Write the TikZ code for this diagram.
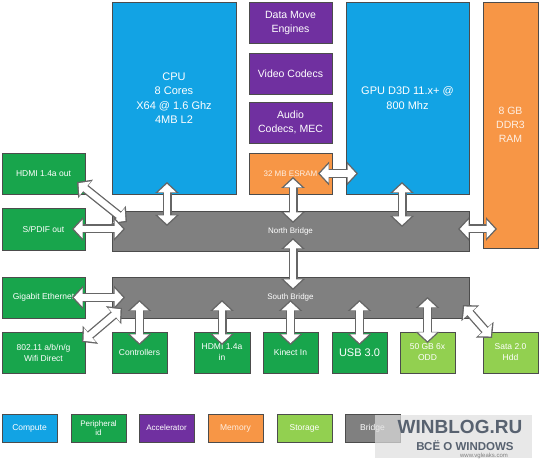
\documentclass[tikz,border=0pt]{standalone}
\usepackage{fontspec}
\setmainfont{Liberation Sans}
\usetikzlibrary{arrows.meta}

\definecolor{computec}{RGB}{18,163,228}
\definecolor{periphc}{RGB}{24,165,76}
\definecolor{accelc}{RGB}{112,48,160}
\definecolor{memc}{RGB}{247,150,70}
\definecolor{storc}{RGB}{146,208,80}
\definecolor{bridgec}{RGB}{128,128,128}
\definecolor{wmtext}{RGB}{88,98,112}

\tikzset{
    blk/.style={draw=black!70, line width=0.5pt, anchor=north west, inner sep=1pt,
        outer sep=0pt, align=center, text=white},
    sz/.style 2 args={minimum width=#1pt, minimum height=#2pt},
    big/.style={font=\fontsize{11}{14.5}\selectfont},
    mid/.style={font=\fontsize{10.5}{14}\selectfont},
    small/.style={font=\fontsize{8.5}{11}\selectfont},
    tiny/.style={font=\fontsize{8}{9.5}\selectfont},
    compute/.style={blk, fill=computec},
    periph/.style={blk, fill=periphc},
    accel/.style={blk, fill=accelc},
    memory/.style={blk, fill=memc, text=white!85!memc},
    storage/.style={blk, fill=storc},
    bridge/.style={blk, fill=bridgec},
    fat/.style={draw=black!60, line width=9pt,
        {Triangle[width=23pt 0 0,length=11pt 0 0]}-{Triangle[width=23pt 0 0,length=11pt 0 0]},
        postaction={draw=white, line width=6.4pt, shorten <=1.9pt, shorten >=1.9pt,
            {Triangle[width=18pt 0 0,length=8.6pt 0 0]}-{Triangle[width=18pt 0 0,length=8.6pt 0 0]}}},
}

\begin{document}
\begin{tikzpicture}[x=1pt, y=-1pt]
    \useasboundingbox[fill=white] (0,0) rectangle (541,470);

    % chip blocks
    \node[compute, big, sz={124}{192}] (cpu) at (112,2) {CPU\\8 Cores\\X64 @ 1.6 Ghz\\4MB L2};
    \node[accel, mid, sz={83}{41}] (dme) at (249,2) {Data Move\\Engines};
    \node[accel, mid, sz={83}{41}] (vid) at (249,53) {Video Codecs};
    \node[accel, mid, sz={83}{41}] (aud) at (249,102) {Audio\\Codecs, MEC};
    \node[memory, tiny, sz={83}{41}] (esram) at (249,153) {32 MB ESRAM};
    \node[compute, big, sz={123}{192}] (gpu) at (346,2) {GPU D3D 11.x+ @\\800 Mhz};
    \node[memory, mid, sz={55}{246}] (ram) at (483,2) {8 GB\\DDR3\\RAM};

    % bridges
    \node[bridge, tiny, sz={357}{40}] (nb) at (112,211) {North Bridge};
    \node[bridge, tiny, sz={357}{41}] (sb) at (112,277) {South Bridge};

    % peripherals
    \node[periph, small, sz={83}{41}] (hdmiout) at (2,153) {HDMI 1.4a out};
    \node[periph, small, sz={83}{42}] (spdif) at (2,208) {S/PDIF out};
    \node[periph, small, sz={83}{41}] (gbe) at (2,277) {Gigabit Ethernet};
    \node[periph, small, sz={83}{41}] (wifi) at (2,332) {802.11 a/b/n/g\\Wifi Direct};
    \node[periph, small, sz={55}{41}] (ctrl) at (112,332) {Controllers};
    \node[periph, small, sz={56}{41}] (hdmiin) at (194,332) {HDMI 1.4a\\in};
    \node[periph, small, sz={55}{41}] (kinect) at (263,332) {Kinect In};
    \node[periph, big, sz={55}{41}] (usb) at (332,332) {USB 3.0};
    \node[storage, small, sz={55}{41}] (odd) at (400,332) {50 GB 6x\\ODD};
    \node[storage, small, sz={55}{41}] (sata) at (483,332) {Sata 2.0\\Hdd};

    % links
    \draw[fat] ([xshift=-8pt,yshift=12pt]hdmiout.south east) -- ([xshift=15pt,yshift=-11pt]nb.north west);
    \draw[fat] ([xshift=-13pt]spdif.east) -- ([xshift=13pt]spdif.east -| nb.west);
    \draw[fat] ([xshift=-7pt,yshift=12pt]cpu.south) -- ([xshift=-7pt,yshift=-15pt]cpu.south |- nb.north);
    \draw[fat] ([xshift=2.5pt,yshift=17pt]esram.south) -- ([xshift=2.5pt,yshift=-12pt]esram.south |- nb.north);
    \draw[fat] ([xshift=-14pt]esram.east) -- ([xshift=12pt]esram.east -| gpu.west);
    \draw[fat] ([xshift=-5.5pt,yshift=12pt]gpu.south) -- ([xshift=-5.5pt,yshift=-16pt]gpu.south |- nb.north);
    \draw[fat] ([xshift=-11pt,yshift=2pt]nb.east) -- ([xshift=14pt,yshift=2pt]nb.east -| ram.west);
    \draw[fat] ([xshift=2.5pt,yshift=13pt]nb.south) -- ([xshift=2.5pt,yshift=-13pt]sb.north);
    \draw[fat] ([xshift=-13pt]gbe.east) -- ([xshift=13pt]gbe.east -| sb.west);
    \draw[fat] ([xshift=-3pt,yshift=-10pt]wifi.north east) -- ([xshift=10pt,yshift=10pt]sb.south west);
    \foreach \n in {ctrl,hdmiin,kinect,usb}
        \draw[fat] ([yshift=-13pt]\n.north) -- ([yshift=18pt]\n.north |- sb.south);
    \draw[fat] ([yshift=-11pt]odd.north) -- ([yshift=21pt]odd.north |- sb.south);
    \draw[fat] ([xshift=9pt,yshift=-6pt]sata.north west) -- ([xshift=-6pt,yshift=13pt]sb.south east);

    % legend
    \node[compute, small, sz={55}{28}] (lgcompute) at (2,414) {Compute};
    \node[periph, tiny, sz={55}{28}] (lgperiph) at (71,414) {Peripheral\\id};
    \node[accel, tiny, sz={55}{28}] (lgaccel) at (139,414) {Accelerator};
    \node[memory, small, sz={55}{28}] (lgmemory) at (208,414) {Memory};
    \node[storage, small, sz={55}{28}] (lgstorage) at (277,414) {Storage};
    \node[bridge, small, sz={55}{28}] (lgbridge) at (345,414) {Bridge};

    % watermark
    \node[fill=gray!25, fill opacity=0.7, anchor=north west, inner sep=0pt, sz={157}{43}] (wmbox) at (375,415) {};
    \node[text=wmtext, font=\fontsize{19}{21}\selectfont\bfseries, inner sep=0pt] (wmname) at (460,427) {WINBLOG.RU};
    \node[text=wmtext, font=\fontsize{11.5}{13}\selectfont\bfseries, inner sep=0pt] (wmsub) at (465,446) {ВСЁ О WINDOWS};
    \node[text=gray, font=\fontsize{6}{7}\selectfont, inner sep=0pt] (wmurl) at (484,456) {www.vgleaks.com};
\end{tikzpicture}
\end{document}
